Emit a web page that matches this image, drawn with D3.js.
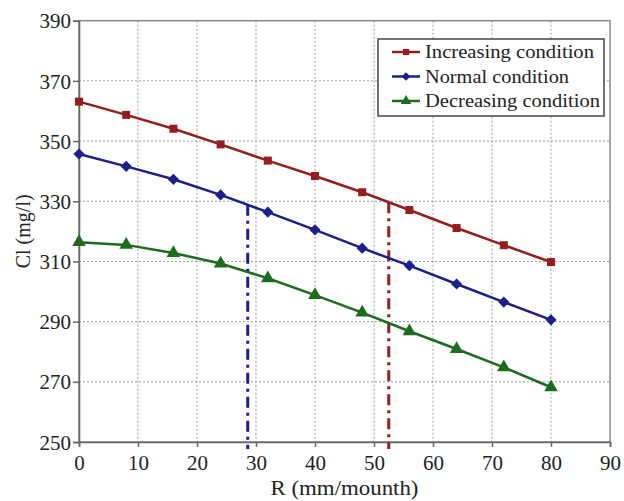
<!DOCTYPE html>
<html><head><meta charset="utf-8">
<script src="https://cdn.jsdelivr.net/npm/d3@7"></script>
<style>
body{margin:0;background:#fff;}
text{font-family:"Liberation Serif","Times New Roman",serif;fill:#222;}
</style></head>
<body><svg id="c" width="624" height="501"></svg>
<script>
const rValues = [0, 8, 16, 24, 32, 40, 48, 56, 64, 72, 80];
const increasing = [363.1, 358.7, 354.1, 348.9, 343.5, 338.4, 333.0, 327.1, 321.1, 315.4, 309.8];
const normal = [345.7, 341.6, 337.3, 332.1, 326.4, 320.5, 314.4, 308.6, 302.5, 296.5, 290.6];
const decreasing = [316.4, 315.5, 312.8, 309.3, 304.4, 298.8, 293.0, 286.8, 280.9, 274.8, 268.2];
const seriesNames = ["Increasing condition", "Normal condition", "Decreasing condition"];
const xTicks = [0, 10, 20, 30, 40, 50, 60, 70, 80, 90];
const yTicks = [250, 270, 290, 310, 330, 350, 370, 390];
const markerLinesX = [28.6, 52.5];
const markerLinesTop = [328.8, 329.7];

const colors = ["#951d1d", "#1c1f8a", "#1d6b1d"];
const symbols = [d3.symbolSquare, d3.symbolDiamond2, d3.symbolTriangle];
const symSizes = [64, 80, 80];
const legendWidths = [169, 144, 175];

const svg = d3.select("#c");
const L = 79, R = 610, T = 20.7, B = 442;
const x = d3.scaleLinear().domain([0, 90]).range([L, R]);
const y = d3.scaleLinear().domain([250, 390]).range([B, T]);

// grid
const g = svg.append("g");
g.selectAll(".gx").data(xTicks.slice(1, -1)).enter().append("line")
  .attr("x1", d => x(d)).attr("x2", d => x(d)).attr("y1", T).attr("y2", B)
  .attr("stroke", "#999").attr("stroke-width", 1).attr("stroke-dasharray", "2,2");
g.selectAll(".gy").data(yTicks.slice(1, -1)).enter().append("line")
  .attr("y1", d => y(d)).attr("y2", d => y(d)).attr("x1", L).attr("x2", R)
  .attr("stroke", "#999").attr("stroke-width", 1).attr("stroke-dasharray", "2,2");

// frame
svg.append("rect").attr("x", L).attr("y", T).attr("width", R - L).attr("height", B - T)
  .attr("fill", "none").attr("stroke", "#8a8a8a").attr("stroke-width", 1.5);

// axes
const xAxis = d3.axisBottom(x).tickValues(xTicks).tickSize(5).tickPadding(8).tickFormat(d3.format("d"));
const yAxis = d3.axisLeft(y).tickValues(yTicks).tickSize(6).tickPadding(2).tickFormat(d3.format("d"));
const gx = svg.append("g").attr("transform", `translate(0,${B})`).call(xAxis);
const gy = svg.append("g").attr("transform", `translate(${L},0)`).call(yAxis);
[gx, gy].forEach(a => {
  a.attr("font-family", null);
  a.select(".domain").attr("stroke", "#666").attr("stroke-width", 1.5);
  a.selectAll(".tick line").attr("stroke", "#666").attr("stroke-width", 1.5);
  a.selectAll(".tick text").style("font-family", "'Liberation Serif', serif")
    .style("font-size", "21px").attr("fill", "#222");
});
gy.selectAll(".tick text").attr("dy", "0.34em");

// dash-dot vertical lines
markerLinesX.forEach((mx, i) => {
  svg.append("line").attr("x1", x(mx)).attr("x2", x(mx))
    .attr("y1", y(markerLinesTop[i])).attr("y2", B + 7)
    .attr("stroke", colors[i === 0 ? 1 : 0]).attr("stroke-width", 3)
    .attr("stroke-dasharray", "11,5,3,5");
});

// series
const data = [increasing, normal, decreasing];
const line = d3.line().x((d, i) => x(rValues[i])).y(d => y(d));
data.forEach((s, k) => {
  svg.append("path").datum(s).attr("d", line).attr("fill", "none")
    .attr("stroke", colors[k]).attr("stroke-width", 2.5);
  svg.selectAll(".m" + k).data(s).enter().append("path")
    .attr("transform", (d, i) => `translate(${x(rValues[i])},${y(d)})`)
    .attr("d", d3.symbol().type(symbols[k]).size(symSizes[k]))
    .attr("fill", colors[k]);
});

// legend
const lg = svg.append("g");
lg.append("rect").attr("x", 378).attr("y", 39).attr("width", 226).attr("height", 77)
  .attr("fill", "#fff").attr("stroke", "#444").attr("stroke-width", 1.5);
seriesNames.forEach((n, k) => {
  const yy = 52 + k * 24.5;
  lg.append("line").attr("x1", 392).attr("x2", 420).attr("y1", yy).attr("y2", yy)
    .attr("stroke", colors[k]).attr("stroke-width", 2.5);
  lg.append("path").attr("transform", `translate(406,${yy})`)
    .attr("d", d3.symbol().type(symbols[k]).size(symSizes[k] * 0.6)).attr("fill", colors[k]);
  lg.append("text").attr("x", 425).attr("y", yy).attr("dy", "0.33em")
    .style("font-size", "19px").attr("textLength", legendWidths[k]).attr("lengthAdjust", "spacingAndGlyphs").text(n);
});

// axis titles
svg.append("text").attr("x", (L + R) / 2).attr("y", 495).attr("text-anchor", "middle")
  .style("font-size", "20px").attr("textLength", 148).attr("lengthAdjust", "spacingAndGlyphs").text("R (mm/mounth)");
svg.append("text").attr("transform", `translate(30,${(T + B) / 2}) rotate(-90)`)
  .attr("text-anchor", "middle").style("font-size", "20px").text("Cl (mg/l)");
</script></body></html>
